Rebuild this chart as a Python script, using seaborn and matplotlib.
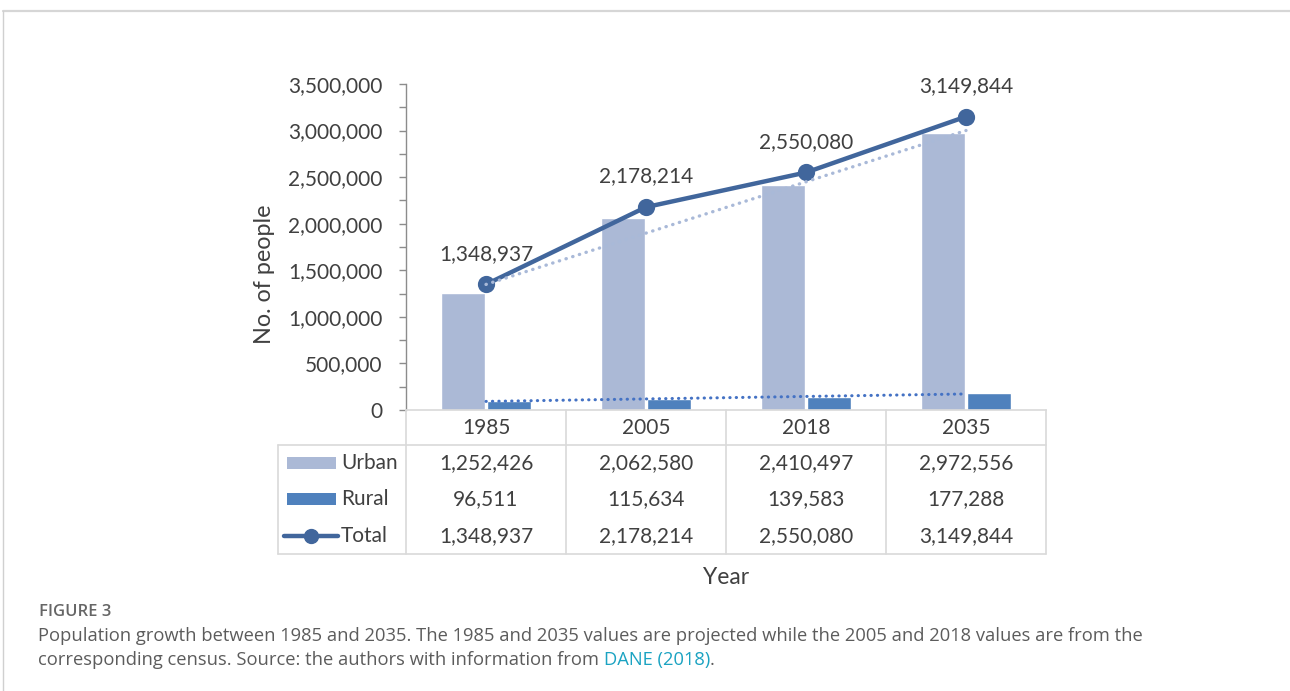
import numpy as np
import pandas as pd
import matplotlib
matplotlib.use("Agg")
import matplotlib.pyplot as plt
import matplotlib.transforms as mtransforms
from matplotlib.lines import Line2D
from matplotlib.patches import Rectangle
from matplotlib.text import Annotation
import seaborn as sns

# Population by area (persons)
years = ["1985", "2005", "2018", "2035"]
urban = [1252426, 2062580, 2410497, 2972556]
rural = [96511, 115634, 139583, 177288]
total = [1348937, 2178214, 2550080, 3149844]
series_names = ["Urban", "Rural", "Total"]
y_ticks = [0, 500000, 1000000, 1500000, 2000000, 2500000, 3000000, 3500000]

URBAN_C = "#abb9d6"
RURAL_C = "#4f81bd"
TOTAL_C = "#41669c"
URBAN_TREND_C = "#a9b9d8"
RURAL_TREND_C = "#4472c4"
TEXT_C = "#404040"
GRID_C = "#d9d9d9"
AXIS_C = "#8c8c8c"

W, H = 1290, 691
sns.set_theme(style="white")
plt.rcParams["font.family"] = ["Lato", "DejaVu Sans"]

fig = plt.figure(figsize=(W / 100, H / 100), dpi=100)


def fx(px):
    return px / W


def fy(py):
    return 1 - py / H


ax = fig.add_axes([fx(406), fy(410), fx(1046) - fx(406), fy(84) - fy(410)])

df = pd.DataFrame({
    "Year": years * 2,
    "People": urban + rural,
    "Area": ["Urban"] * 4 + ["Rural"] * 4,
})
sns.barplot(data=df, x="Year", y="People", hue="Area", order=years,
            hue_order=["Urban", "Rural"], palette=[URBAN_C, RURAL_C],
            width=0.58, gap=0.04, saturation=1, errorbar=None,
            legend=False, ax=ax, zorder=2)

# Total population line
sns.pointplot(x=years, y=total, order=years, color=TOTAL_C, markers="o",
              errorbar=None, markersize=10, linewidth=3.2, ax=ax)
for coll in ax.lines:
    coll.set_zorder(4)

# Linear trendlines for urban and rural series
pos = np.arange(len(years))
sns.regplot(x=pos, y=urban, ax=ax, scatter=False, ci=None, truncate=True,
            color=URBAN_TREND_C,
            line_kws=dict(linestyle=(0, (0.1, 2.0)), linewidth=2.4,
                          dash_capstyle="round", zorder=5))
sns.regplot(x=pos, y=rural, ax=ax, scatter=False, ci=None, truncate=True,
            color=RURAL_TREND_C,
            line_kws=dict(linestyle=(0, (0.1, 2.0)), linewidth=2.2,
                          dash_capstyle="round", zorder=5))

# Value labels above the total line
for i, v in enumerate(total):
    ax.annotate(f"{v:,}", xy=(i, v), xytext=(0, 22), textcoords="offset points",
                ha="center", va="center", fontsize=15, color=TEXT_C, zorder=6)

ax.set_xlim(-0.5, 3.5)
ax.set_ylim(0, 3500000)
ax.set_yticks(y_ticks)
ax.set_yticklabels([f"{t:,}" for t in y_ticks])
ax.yaxis.set_minor_locator(matplotlib.ticker.MultipleLocator(250000))
ax.tick_params(axis="y", which="both", left=True, length=5, width=1,
               color=AXIS_C, labelsize=15, labelcolor=TEXT_C, pad=12,
               direction="out")
ax.set_xticks([])
ax.set_xlabel("")
ax.set_ylabel("No. of people", fontsize=16.8, color=TEXT_C)
ax.yaxis.set_label_coords((275 - 406) / 640, (410 - 274) / 326)
for side in ["top", "right"]:
    ax.spines[side].set_visible(False)
ax.spines["left"].set_color(AXIS_C)
ax.spines["left"].set_linewidth(1)
ax.spines["bottom"].set_color(GRID_C)
ax.spines["bottom"].set_linewidth(1.2)
ax.patch.set_alpha(0)

# Data table below the plot area
bt = mtransforms.blended_transform_factory(ax.transData, fig.transFigure)
left_edge = -0.5 - (406 - 278) / 160
line_kw = dict(color=GRID_C, linewidth=1.2, transform=bt, clip_on=False)
for b in np.arange(len(years) + 1) - 0.5:
    fig.add_artist(Line2D([b, b], [fy(410), fy(554)], **line_kw))
fig.add_artist(Line2D([left_edge, left_edge], [fy(445), fy(554)], **line_kw))
for yy in (445, 554):
    fig.add_artist(Line2D([left_edge, 3.5], [fy(yy), fy(yy)], **line_kw))

cell_kw = dict(transform=bt, ha="center", va="center", fontsize=15, color=TEXT_C)
for i, yr in enumerate(years):
    fig.text(i, fy(428), yr, **cell_kw)
row_y = [463, 499, 536]
for vals, yy in zip([urban, rural, total], row_y):
    for i, v in enumerate(vals):
        fig.text(i, fy(yy), f"{v:,}", **cell_kw)

# Legend keys inside the table
def dx(px):
    return (px - 486) / 160

for color, yy in zip([URBAN_C, RURAL_C], row_y[:2]):
    fig.add_artist(Rectangle((dx(287), fy(yy + 6)), dx(336) - dx(287), fy(yy - 6) - fy(yy + 6),
                             transform=bt, facecolor=color, edgecolor="none", clip_on=False))
fig.add_artist(Line2D([dx(284), dx(338)], [fy(536), fy(536)], color=TOTAL_C,
                      linewidth=3.2, transform=bt, clip_on=False))
fig.add_artist(Line2D([dx(311)], [fy(536)], color=TOTAL_C, marker="o",
                      markersize=10, linestyle="none", transform=bt, clip_on=False))
for name, yy in zip(series_names, row_y):
    fig.text(dx(341), fy(yy), name, transform=bt, ha="left", va="center",
             fontsize=15, color=TEXT_C)

fig.text(fx(726), fy(577), "Year", ha="center", va="center",
         fontsize=16.5, color=TEXT_C)

# Panel frame
fig.add_artist(Line2D([fx(3), 1], [fy(11), fy(11)], color="#d6d6d6", linewidth=1.6,
                      transform=fig.transFigure))
fig.add_artist(Line2D([fx(3), fx(3)], [fy(11), 0], color="#d0d0d0", linewidth=1.0,
                      transform=fig.transFigure))

# Caption
CAP_C = "#5c5c5c"
cap_font = ["Open Sans", "DejaVu Sans"]
fig.text(fx(39), fy(612), "FIGURE 3", ha="left", va="center", fontsize=12,
         fontweight="semibold", color="#666666", family=cap_font)
fig.text(fx(38), fy(636),
         "Population growth between 1985 and 2035. The 1985 and 2035 values are projected "
         "while the 2005 and 2018 values are from the",
         ha="left", va="center", fontsize=13.2, color=CAP_C, family=cap_font)
t1 = fig.text(fx(38), fy(660),
              "corresponding census. Source: the authors with information from ",
              ha="left", va="center", fontsize=13.2, color=CAP_C, family=cap_font)
t2 = Annotation("DANE (2018)", xy=(1, 0), xycoords=t1, va="bottom", ha="left",
                fontsize=13.2, color="#1ba3c2", family=cap_font)
fig.add_artist(t2)
t3 = Annotation(".", xy=(1, 0), xycoords=t2, va="bottom", ha="left",
                fontsize=13.2, color=CAP_C, family=cap_font)
fig.add_artist(t3)

fig.savefig("out.png", dpi=100, facecolor="white")
